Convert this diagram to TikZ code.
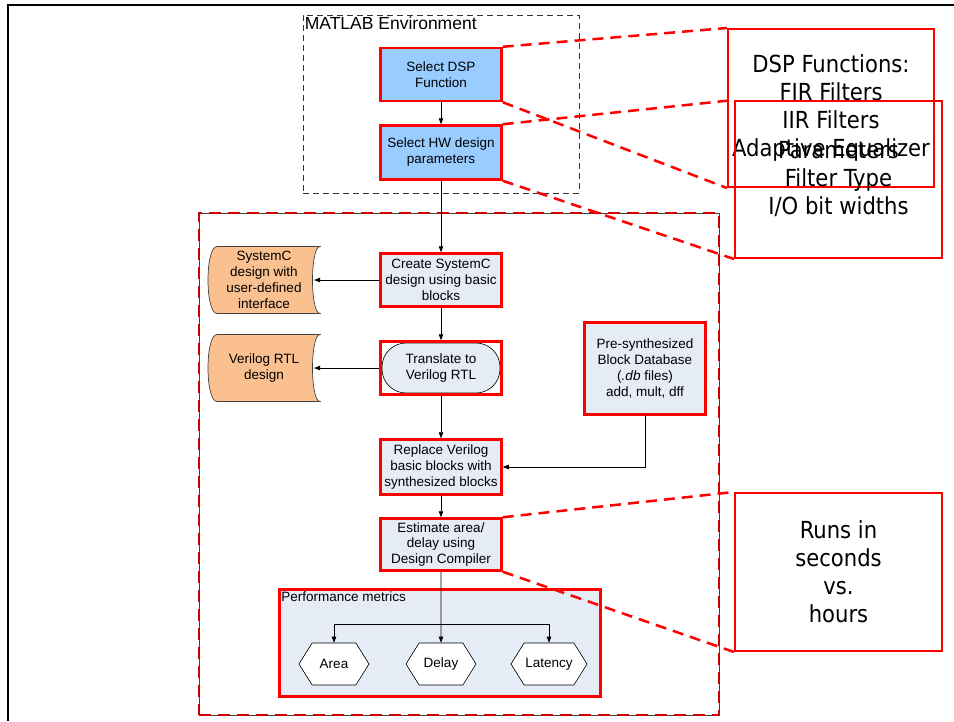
\documentclass[tikz,border=0pt]{standalone}
\usepackage{fontspec}
\setmainfont{Liberation Sans}
\newfontfamily\calloutfont{DejaVu Sans Condensed}
\usetikzlibrary{shapes.symbols,arrows.meta}
\definecolor{procblue}{HTML}{99CCFF}
\definecolor{procgray}{HTML}{E6ECF6}
\definecolor{storeorange}{HTML}{FAC090}
\definecolor{storeedge}{HTML}{404040}
\begin{document}
\begin{tikzpicture}[>={Triangle[length=6pt,width=4.5pt]}, x=1pt, y=-1pt,
    every node/.style={font=\fontsize{13.5}{16}\selectfont},
    proc/.style={draw=red, line width=2.5pt, fill=procgray, minimum width=121pt,
        minimum height=53pt, align=center, inner sep=1pt},
    matlabproc/.style={proc, fill=procblue},
    term/.style={proc, fill=white, path picture={
        \draw[black, line width=0.6pt, fill=procgray, rounded corners=24pt]
        ([shift={(1.5pt,-1.5pt)}]path picture bounding box.north west) rectangle
        ([shift={(-1.5pt,1.5pt)}]path picture bounding box.south east);}},
    storedata/.style={minimum width=114pt, minimum height=69pt, align=center, inner sep=0pt,
        path picture={
        \filldraw[draw=storeedge, fill=storeorange, line width=0.7pt]
        ([shift={(10pt,-1pt)}]path picture bounding box.north west) --
        ([shift={(-1pt,-1pt)}]path picture bounding box.north east)
        .. controls ([shift={(-11pt,-1pt)}]path picture bounding box.north east)
        and ([shift={(-11pt,1pt)}]path picture bounding box.south east) ..
        ([shift={(-1pt,1pt)}]path picture bounding box.south east) --
        ([shift={(10pt,1pt)}]path picture bounding box.south west)
        .. controls ([shift={(-2pt,1pt)}]path picture bounding box.south west)
        and ([shift={(-2pt,-1pt)}]path picture bounding box.north west) .. cycle;}},
    hexa/.style={shape=signal, signal to=west and east, signal pointer angle=116,
        draw=black, line width=0.6pt, fill=white, minimum width=70pt, minimum height=42pt,
        inner sep=0pt},
    envbox/.style={draw=black!80, line width=0.7pt, dash pattern=on 6pt off 4pt,
        minimum width=276pt, minimum height=178pt},
    stagebox/.style={draw=black!75, line width=0.8pt, minimum width=520pt, minimum height=502pt,
        postaction={draw=red!80!black, line width=2.5pt, dash pattern=on 12pt off 7pt}},
    metricbox/.style={draw=red, line width=2.5pt, fill=procgray, minimum width=321pt,
        minimum height=107pt},
    callout/.style={draw=red, line width=2pt, align=center,
        font=\calloutfont\fontsize{23.5}{28}\selectfont},
    callline/.style={draw=red, line width=2.5pt, dash pattern=on 11pt off 7pt},
    link/.style={draw=black, line width=0.7pt}
    ]
    \useasboundingbox (0,0) rectangle (954,721);
    % outer frame
    \draw[line width=1.6pt] (954,5) -- (8,5) -- (8,721);

    % MATLAB part
    \node[envbox] (env) at (441,104) {};
    \node[anchor=north west, inner sep=2pt, font=\fontsize{17.5}{19}\selectfont]
        (envlabel) at (env.north west) {MATLAB Environment};
    \node[matlabproc] (dsp) at (441,74.5) {Select DSP\\Function};
    \node[matlabproc, minimum height=54pt] (hw) at (441,152.5) {Select HW design\\parameters};

    % flow part
    \node[stagebox] (stage) at (459,464) {};
    \node[proc] (create) at (441,280) {Create SystemC\\design using basic\\blocks};
    \node[term] (trans) at (441,368) {Translate to\\Verilog RTL};
    \node[storedata] (sysc) at (264,280) {SystemC\\design with\\user-defined\\interface};
    \node[storedata] (vrtl) at (264,368) {Verilog RTL\\design};
    \node[proc, minimum height=92pt] (presyn) at (645,368.5)
        {Pre-synthesized\\Block Database\\(\textit{.db} files)\\add, mult, dff};
    \node[proc, minimum height=55pt] (repl) at (441,467)
        {Replace Verilog\\basic blocks with\\synthesized blocks};
    \node[proc, minimum height=52pt] (est) at (441,544.5)
        {Estimate area/\\delay using\\Design Compiler};

    % metrics
    \node[metricbox] (perf) at (440,643) {};
    \node[anchor=north west, inner sep=3pt] (perflabel) at (perf.north west) {Performance metrics};
    \node[hexa] (area) at (334,664) {Area};
    \node[hexa] (delay) at (441,664) {Delay};
    \node[hexa, minimum width=76pt] (lat) at (549,664) {Latency};
    \coordinate (fork) at (441,624);

    \draw[link,->] (dsp) -- (hw);
    \draw[link,->] (hw) -- (create);
    \draw[link,->] (create) -- (trans);
    \draw[link,->] (trans) -- (repl);
    \draw[link,->] (repl) -- (est);
    \draw[link,->] (create) -- ([xshift=-7pt]sysc.east);
    \draw[link,->] (trans) -- ([xshift=-7pt]vrtl.east);
    \draw[link,->] (presyn.south) |- (repl.east);
    \draw[link,->] (est) -- (delay);
    \draw[link,->] (fork) -| (area);
    \draw[link,->] (fork) -| (lat);

    % callouts
    \node[callout, minimum width=206pt, minimum height=158pt] (fun) at (831,108)
        {DSP Functions:\\FIR Filters\\IIR Filters\\Adaptive Equalizer};
    \node[callout, minimum width=207pt, minimum height=157pt] (par) at (838.5,179.5)
        {Parameters\\Filter Type\\I/O bit widths};
    \node[callout, minimum width=207pt, minimum height=158pt] (runs) at (838.5,572)
        {Runs in\\seconds\\vs.\\hours};
    \draw[callline] (dsp.north east) -- (fun.north west);
    \draw[callline] (dsp.south east) -- (fun.south west);
    \draw[callline] (hw.north east) -- (par.north west);
    \draw[callline] (hw.south east) -- (par.south west);
    \draw[callline] (est.north east) -- (runs.north west);
    \draw[callline] (est.south east) -- (runs.south west);
\end{tikzpicture}
\end{document}
